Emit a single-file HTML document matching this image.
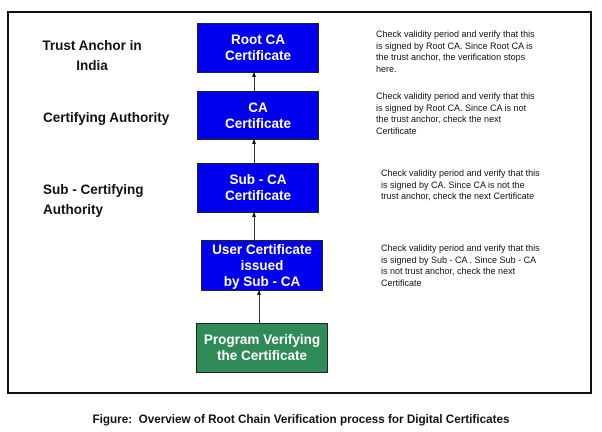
<!DOCTYPE html>
<html><head><style>
body{margin:0;width:602px;height:432px;background:#fff;position:relative;font-family:"Liberation Sans",Arial,sans-serif;overflow:hidden}
.frame{position:absolute;left:7px;top:11px;width:581px;height:379px;border:2px solid #111}
.b{position:absolute;background:#0000ee;border:1px solid #222;color:#fff;font-weight:bold;font-size:13.5px;text-align:center;line-height:16px;display:flex;align-items:center;justify-content:center}
.g{background:#2e8b57}
.l{position:absolute;font-weight:bold;font-size:13.5px;color:#111;line-height:20px}
.t{position:absolute;font-size:9px;line-height:11.5px;color:#111}
.v{position:absolute;width:1px;background:#333}
.a{position:absolute;width:0;height:0;border-left:2.5px solid transparent;border-right:2.5px solid transparent;border-bottom:5px solid #111}
</style></head><body>
<div class="frame"></div>
<div class="l" style="left:38px;top:36px;text-align:center;width:108px">Trust Anchor in<br>India</div>
<div class="l" style="left:43px;top:108px">Certifying Authority</div>
<div class="l" style="left:43px;top:180px">Sub - Certifying<br>Authority</div>
<div class="b" style="left:197px;top:23px;width:120px;height:48px">Root CA<br>Certificate</div>
<div class="b" style="left:197px;top:91px;width:120px;height:47px">CA<br>Certificate</div>
<div class="b" style="left:197px;top:163px;width:120px;height:48px">Sub - CA<br>Certificate</div>
<div class="b" style="left:201px;top:240px;width:120px;height:49px">User Certificate<br>issued<br>by Sub - CA</div>
<div class="b g" style="left:196px;top:323px;width:130px;height:48px">Program Verifying<br>the Certificate</div>
<div class="v" style="left:254px;top:73px;height:18px"></div><div class="a" style="left:252px;top:72px"></div>
<div class="v" style="left:254px;top:140px;height:23px"></div><div class="a" style="left:252px;top:139px"></div>
<div class="v" style="left:254px;top:213px;height:27px"></div><div class="a" style="left:252px;top:212px"></div>
<div class="v" style="left:259px;top:291px;height:32px"></div><div class="a" style="left:257px;top:290px"></div>
<div class="t" style="left:376px;top:29px">Check validity period and verify that this<br>is signed by Root CA. Since Root CA is<br>the trust anchor, the verification stops<br>here.</div>
<div class="t" style="left:376px;top:91px">Check validity period and verify that this<br>is signed by Root CA. Since CA is not<br>the trust anchor, check the next<br>Certificate</div>
<div class="t" style="left:381px;top:168px">Check validity period and verify that this<br>is signed by CA. Since CA is not the<br>trust anchor, check the next Certificate</div>
<div class="t" style="left:381px;top:243px">Check validity period and verify that this<br>is signed by Sub - CA . Since Sub - CA<br>is not trust anchor, check the next<br>Certificate</div>
<div style="position:absolute;left:0;width:602px;top:413px;text-align:center;font-weight:bold;font-size:11.7px;color:#111">Figure:&nbsp; Overview of Root Chain Verification process for Digital Certificates</div>
</body></html>
